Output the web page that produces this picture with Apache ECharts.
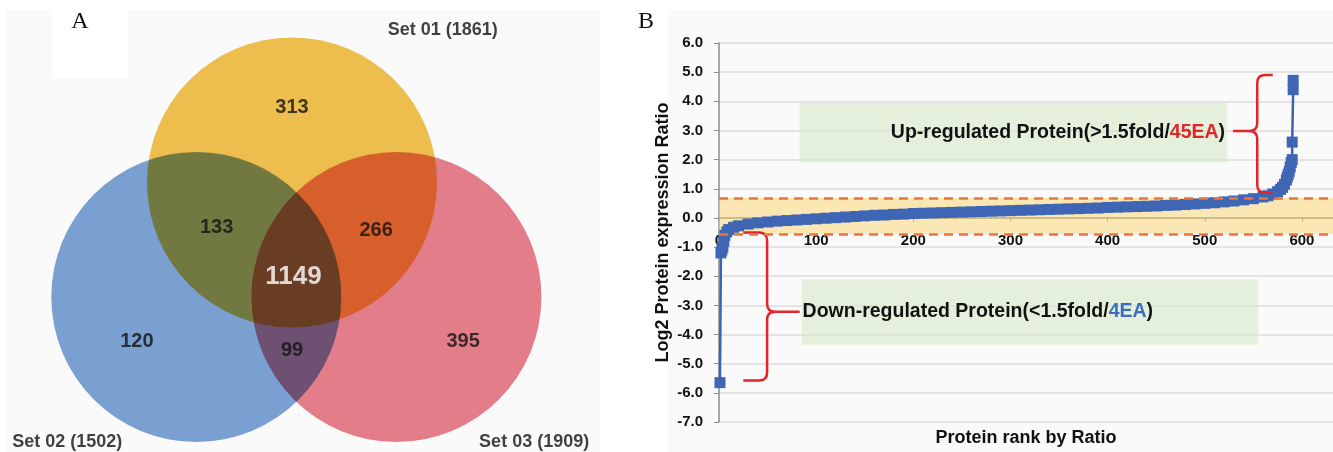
<!DOCTYPE html>
<html>
<head>
<meta charset="utf-8">
<script src="https://cdn.jsdelivr.net/npm/echarts@6/dist/echarts.min.js"></script>
<style>
  html, body { margin: 0; padding: 0; background: #fff; }
  #chart { width: 1333px; height: 452px; }
</style>
</head>
<body>
<div id="chart"></div>
<script>
// ---- panel A : venn ----
const setNames = ['Set 01 (1861)', 'Set 02 (1502)', 'Set 03 (1909)']
const setCenters = [[0, 0.79], [-0.66, 0], [0.72, 0]]
const setRadius = [1, 1, 1]
const setColors = ['#f2c14e', '#7ba3d4', '#e8808c']
const regionCounts = [313, 133, 266, 1149, 120, 99, 395]
const regionPos = [[0, 1.31], [-0.52, 0.48], [0.58, 0.46], [0.01, 0.14], [-1.07, -0.31], [0, -0.37], [1.18, -0.31]]
const setLabelPos = [[1.04, 1.84], [-1.55, -1.0], [1.67, -1.0]]

// ---- panel B : protein rank vs log2 ratio ----
const rankData = [1, 2, 3, 4, 5, 6, 8, 10, 15, 20, 30, 40, 50, 60, 70, 80, 90, 100,
  110, 120, 130, 140, 150, 160, 170, 180, 190, 200, 210, 220, 230, 240, 250,
  260, 270, 280, 290, 300, 310, 320, 330, 340, 350, 360, 370, 380, 390, 400,
  410, 420, 430, 440, 450, 460, 470, 480, 490, 500, 510, 520, 530, 540, 550,
  560, 565, 570, 575, 578, 580, 582, 584, 585, 586, 587, 588, 589, 590, 590, 591, 591]
const ratioData = [-5.65, -1.2, -1.1, -1.0, -0.8, -0.6, -0.48, -0.4, -0.32, -0.27, -0.21, -0.17, -0.14, -0.11, -0.09, -0.07, -0.05, -0.03,
  -0.01, 0.01, 0.03, 0.05, 0.07, 0.09, 0.1, 0.12, 0.13, 0.15, 0.16, 0.17, 0.18, 0.19, 0.2,
  0.21, 0.22, 0.23, 0.24, 0.25, 0.26, 0.27, 0.28, 0.29, 0.3, 0.31, 0.32, 0.33, 0.34, 0.36,
  0.37, 0.38, 0.39, 0.4, 0.41, 0.43, 0.44, 0.46, 0.48, 0.5, 0.52, 0.55, 0.58, 0.62, 0.66,
  0.72, 0.76, 0.82, 0.9, 0.98, 1.05, 1.15, 1.3, 1.4, 1.5, 1.6, 1.75, 1.9, 2.0, 2.6, 4.4, 4.72]
const yMin = -7
const yMax = 6
const upLimit = 0.68
const downLimit = -0.55
const upBox = [[83, 3.95], [523, 1.9]]
const downBox = [[85, -2.1], [555, -4.35]]
// spine x, ends x, top y, bottom y, tip y, tip x
const braces = [[554, 570, 4.9, 0.86, 2.98, 529], [49.5, 25, -0.5, -5.58, -3.22, 83]]

const font = 'Liberation Sans, Arial, sans-serif'
const gridB = { left: 719, top: 43, right: 0, bottom: 30 }
const plotH = 452 - gridB.top - gridB.bottom
// x axis sits on the zero line
const zeroOffset = -(0 - yMin) / (yMax - yMin) * plotH

const chart = echarts.init(document.getElementById('chart'))

const option = {
  animation: false,
  textStyle: { fontFamily: font },
  graphic: [
    { type: 'rect', shape: { x: 6, y: 10, width: 594, height: 442 }, style: { fill: '#fafafa' }, silent: true },
    { type: 'rect', shape: { x: 52, y: 10, width: 76, height: 68 }, style: { fill: '#ffffff' }, silent: true },
    { type: 'text', x: 80, y: 22, style: { text: 'A', font: '24px "Liberation Serif", serif', fill: '#111', align: 'center', verticalAlign: 'middle' } },
    { type: 'rect', shape: { x: 668, y: 10, width: 665, height: 442 }, style: { fill: '#fafafa' }, silent: true },
    { type: 'text', x: 646, y: 22, style: { text: 'B', font: '24px "Liberation Serif", serif', fill: '#111', align: 'center', verticalAlign: 'middle' } }
  ],
  grid: [
    { left: 2, top: 7, width: 580, height: 435, outerBoundsMode: 'none' },
    Object.assign({ outerBoundsMode: 'none' }, gridB)
  ],
  xAxis: [
    { gridIndex: 0, type: 'value', min: -2, max: 2, show: false },
    {
      gridIndex: 1, type: 'value', min: 0, max: 632, interval: 100,
      position: 'bottom', offset: zeroOffset,
      name: 'Protein rank by Ratio', nameLocation: 'middle', nameGap: 211,
      nameTextStyle: { fontSize: 18, fontWeight: 'bold', color: '#111' },
      axisLine: { show: true, onZero: false, lineStyle: { color: '#8c8c8c', width: 1.5 } },
      axisTick: { show: true, length: 4, lineStyle: { color: '#8c8c8c' } },
      splitLine: { show: false },
      axisLabel: {
        margin: 15, fontSize: 15, fontWeight: 'bold', color: '#111',
        formatter: v => (v <= 600 ? String(v) : '')
      }
    }
  ],
  yAxis: [
    { gridIndex: 0, type: 'value', min: -1, max: 2, show: false },
    {
      gridIndex: 1, type: 'value', min: yMin, max: yMax, interval: 1,
      name: 'Log2 Protein expression Ratio', nameLocation: 'middle', nameGap: 47,
      nameTextStyle: { fontSize: 18, fontWeight: 'bold', color: '#111' },
      axisLine: { show: true, onZero: false, lineStyle: { color: '#8c8c8c', width: 1.5 } },
      axisTick: { show: true, length: 5, lineStyle: { color: '#8c8c8c' } },
      splitLine: { show: true, lineStyle: { color: '#dcdcdc', width: 1.5 } },
      axisLabel: { margin: 16, fontSize: 15, fontWeight: 'bold', color: '#111', formatter: v => v.toFixed(1) }
    }
  ],
  series: [
    {
      type: 'custom', xAxisIndex: 0, yAxisIndex: 0, z: 1,
      blendMode: 'multiply',
      data: setCenters.map((c, i) => [c[0], c[1], setRadius[i]]),
      renderItem: (params, api) => {
        const c = api.coord([api.value(0), api.value(1)])
        const r = api.size([api.value(2), 0])[0]
        return {
          type: 'circle',
          shape: { cx: c[0], cy: c[1], r: r },
          style: { fill: setColors[params.dataIndex] }
        }
      }
    },
    {
      type: 'scatter', xAxisIndex: 0, yAxisIndex: 0, z: 5,
      symbolSize: 1, itemStyle: { color: 'rgba(0,0,0,0)' },
      data: regionCounts.map((n, i) => ({
        value: [regionPos[i][0], regionPos[i][1], n],
        label: n === 1149 ? { color: '#fff', fontSize: 26 } : {}
      })),
      label: { show: true, position: 'inside', fontSize: 20, fontWeight: 'bold', color: '#111', formatter: p => p.value[2] }
    },
    {
      type: 'scatter', xAxisIndex: 0, yAxisIndex: 0, z: 5,
      symbolSize: 1, itemStyle: { color: 'rgba(0,0,0,0)' },
      data: setNames.map((s, i) => ({ name: s, value: setLabelPos[i] })),
      label: { show: true, position: 'inside', fontSize: 18, fontWeight: 'bold', color: '#111', formatter: p => p.name }
    },
    {
      type: 'scatter', xAxisIndex: 1, yAxisIndex: 1, z: 1, data: [],
      markArea: {
        silent: true,
        data: [
          [{ yAxis: downLimit, itemStyle: { color: 'rgba(249,212,110,0.5)' } }, { yAxis: upLimit }],
          [{
            xAxis: upBox[0][0], yAxis: upBox[0][1],
            itemStyle: { color: 'rgba(214,234,200,0.6)' },
            label: {
              show: true, position: 'insideRight', distance: 2,
              formatter: '{b|Up-regulated Protein(>1.5fold/}{r|45EA}{b|)}',
              rich: {
                b: { fontSize: 19.5, fontWeight: 'bold', color: '#111', fontFamily: font },
                r: { fontSize: 19.5, fontWeight: 'bold', color: '#e0262a', fontFamily: font }
              }
            }
          }, { xAxis: upBox[1][0], yAxis: upBox[1][1] }],
          [{
            xAxis: downBox[0][0], yAxis: downBox[0][1],
            itemStyle: { color: 'rgba(214,234,200,0.6)' },
            label: {
              show: true, position: 'insideLeft', distance: 1,
              formatter: '{b|Down-regulated Protein(<1.5fold/}{u|4EA}{b|)}',
              rich: {
                b: { fontSize: 19.5, fontWeight: 'bold', color: '#111', fontFamily: font },
                u: { fontSize: 19.5, fontWeight: 'bold', color: '#3a6cc4', fontFamily: font }
              }
            }
          }, { xAxis: downBox[1][0], yAxis: downBox[1][1] }]
        ]
      },
      markLine: {
        silent: true, symbol: 'none', label: { show: false },
        lineStyle: { color: '#e8763a', width: 2.5, type: [9, 6] },
        data: [{ yAxis: upLimit }, { yAxis: downLimit }]
      }
    },
    {
      type: 'line', xAxisIndex: 1, yAxisIndex: 1, z: 3,
      data: rankData.map((r, i) => [r, ratioData[i]]),
      symbol: 'rect', symbolSize: 11, showAllSymbol: true,
      lineStyle: { color: '#3b63b5', width: 2.5 },
      itemStyle: { color: '#3f66b4' }
    },
    {
      type: 'custom', xAxisIndex: 1, yAxisIndex: 1, z: 4,
      data: braces,
      renderItem: (params, api) => {
        const xs = api.coord([api.value(0), 0])[0]
        const xe = api.coord([api.value(1), 0])[0]
        const yt = api.coord([0, api.value(2)])[1]
        const yb = api.coord([0, api.value(3)])[1]
        const ym = api.coord([0, api.value(4)])[1]
        const xt = api.coord([api.value(5), 0])[0]
        const d = xe > xs ? 1 : -1
        const r = 8
        const path = 'M' + xe + ',' + yt + ' L' + (xs + d * r) + ',' + yt +
          ' Q' + xs + ',' + yt + ' ' + xs + ',' + (yt + r) +
          ' L' + xs + ',' + (ym - r) +
          ' Q' + xs + ',' + ym + ' ' + (xs - d * r) + ',' + ym +
          ' L' + xt + ',' + ym +
          ' M' + (xs - d * r) + ',' + ym +
          ' Q' + xs + ',' + ym + ' ' + xs + ',' + (ym + r) +
          ' L' + xs + ',' + (yb - r) +
          ' Q' + xs + ',' + yb + ' ' + (xs + d * r) + ',' + yb +
          ' L' + xe + ',' + yb
        return {
          type: 'path',
          shape: { pathData: path },
          style: { stroke: '#e0262a', lineWidth: 2.5, fill: 'none' }
        }
      }
    }
  ]
}

chart.setOption(option)
</script>
</body>
</html>
